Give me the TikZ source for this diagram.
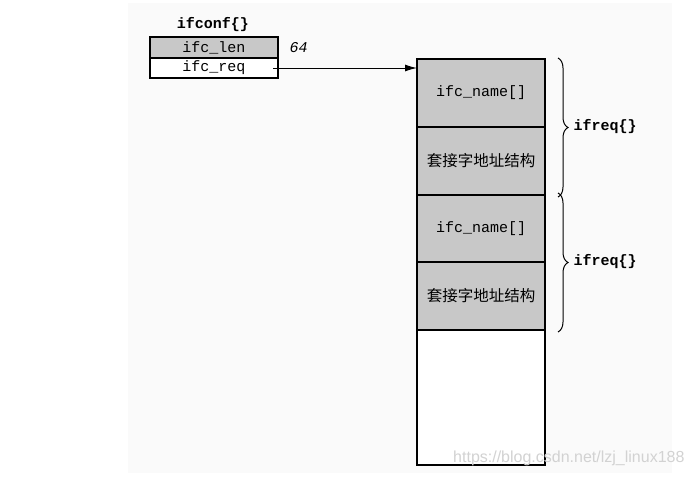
\documentclass[tikz,border=0pt]{standalone}
\usepackage{fontspec}
\setmonofont{Liberation Mono}
\setsansfont{Liberation Sans}
\newfontfamily\cjkfont{Noto Sans CJK SC}
\usetikzlibrary{arrows.meta,decorations.pathreplacing,positioning}
\definecolor{fieldgray}{RGB}{200,200,200}
\definecolor{scanbg}{RGB}{250,250,250}
\definecolor{markgray}{RGB}{210,210,210}

\tikzset{
  field/.style={draw, line width=1.1pt, minimum width=128pt, inner sep=0pt,
    outer sep=0pt, anchor=north west},
  cjk/.style={font=\fontsize{15.5}{17}\selectfont\cjkfont},
  structname/.style={font=\fontsize{15}{17}\selectfont\ttfamily\bfseries},
  bracket/.style={decorate, decoration={brace, amplitude=10pt}, line width=1pt}
}

\begin{document}
\begin{tikzpicture}[x=1pt, y=-1pt, font=\fontsize{15}{17}\selectfont\ttfamily]
\useasboundingbox (0,0) rectangle (695,479);
\fill[scanbg] (128,3) rectangle (672,473);

% ifconf structure
\node[structname] (ifconf) at (213,25) {ifconf\{\}};
\node[field, fill=fieldgray, minimum height=21pt] (ifclen) at (150,37) {ifc\_len};
\node[field, fill=white, minimum height=20pt, below=0pt of ifclen] (ifcreq) {ifc\_req};
\node[font=\fontsize{15}{17}\selectfont\ttfamily\itshape, anchor=west] (lenval) at (286,48) {64};

% buffer of ifreq structures
\node[field, fill=fieldgray, minimum height=68pt] (name1) at (417,59) {ifc\_name[]};
\node[field, fill=fieldgray, minimum height=68pt, below=0pt of name1, cjk] (addr1) {套接字地址结构};
\node[field, fill=fieldgray, minimum height=67pt, below=0pt of addr1] (name2) {ifc\_name[]};
\node[field, fill=fieldgray, minimum height=68pt, below=0pt of name2, cjk] (addr2) {套接字地址结构};
\node[field, fill=white, minimum height=135pt, below=0pt of addr2] (spare) {};

% Arrow
\draw[-{Latex[length=12pt,width=7pt]}, line width=1pt] ([xshift=-5pt]ifcreq.east) -- (name1.west |- ifcreq.east);

% Braces
\draw[bracket] ([xshift=13pt,yshift=1pt]name1.north east) -- ([xshift=13pt,yshift=-2pt]addr1.south east);
\draw[bracket] ([xshift=13pt,yshift=2pt]name2.north east) -- ([xshift=13pt,yshift=-2pt]addr2.south east);
\node[structname, anchor=west] (req1) at ([xshift=25pt]name1.south east) {ifreq\{\}};
\node[structname, anchor=west] (req2) at ([xshift=25pt]name2.south east) {ifreq\{\}};

% watermark
\node[font=\fontsize{16}{18}\selectfont\sffamily, text=markgray, anchor=east] (mark) at (688,458) {https://blog.csdn.net/lzj\_linux188};
\end{tikzpicture}
\end{document}
